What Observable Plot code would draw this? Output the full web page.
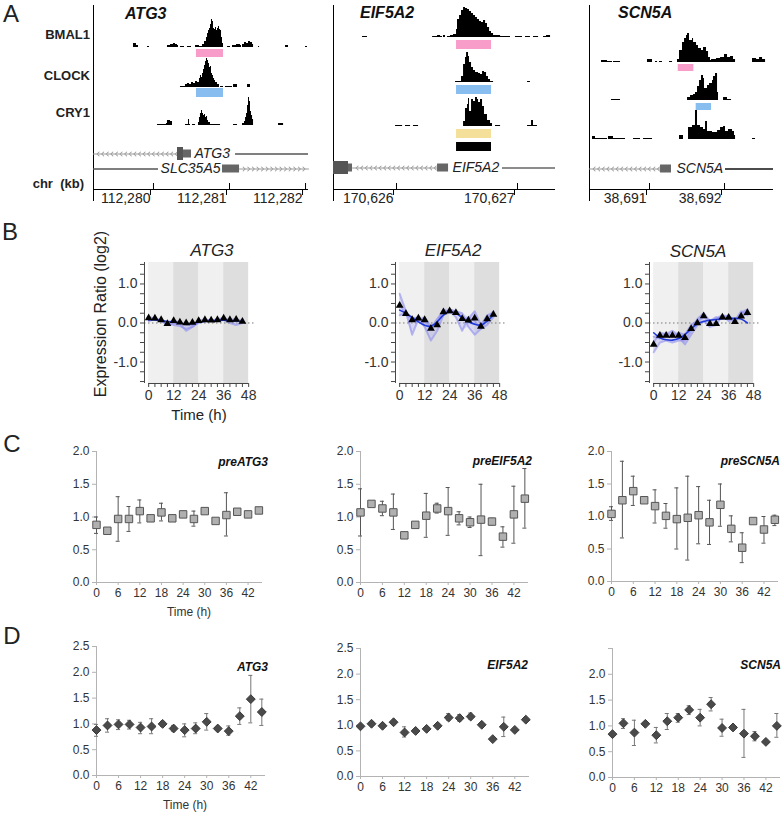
<!DOCTYPE html>
<html><head><meta charset="utf-8">
<script src="https://cdn.jsdelivr.net/npm/d3@7"></script>
<script src="https://cdn.jsdelivr.net/npm/@observablehq/plot@0.6"></script>
<style>
body{margin:0;background:#fff;}
#root{position:relative;width:782px;height:813px;overflow:hidden;font-family:"Liberation Sans",Arial,Helvetica,sans-serif;color:#222;background:#fff;}
.t{position:absolute;line-height:1;white-space:pre;}
.p{position:absolute;line-height:0;}
.vl{position:absolute;width:1px;background:#000;}
</style></head><body><div id="root"></div>
<script>
// ================= DATA =================
// ---- Panel A: genomic windows (kb offsets from a reference coordinate) ----
const atg3Ref = 112280, eif5a2Ref = 170626, scn5aRef = 38691;
const atg3Window = [-0.789, 2.039], eif5a2Window = [-0.521, 1.314], scn5aWindow = [-0.8, 1.653];
const atg3Ticks = [112280, 112281, 112282], eif5a2Ticks = [170626, 170627], scn5aTicks = [38691, 38692];
const trackNames = ["BMAL1", "CLOCK", "CRY1"];

// ChIP-seq coverage: [kb offset where a step starts, signal]
const atg3Bmal1 = [[-0.263,4],[-0.224,2],[-0.197,0],[-0.079,1],[-0.053,0],[0.184,2],[0.224,3],[0.263,4],[0.289,3],[0.316,2],[0.329,0],[0.355,1],[0.408,0],[0.447,1],[0.5,0],[0.553,2],[0.605,1],[0.645,3],[0.671,6],[0.697,10],[0.711,14],[0.724,17],[0.737,19],[0.75,23],[0.763,28],[0.776,26],[0.789,19],[0.803,18],[0.816,20],[0.829,17],[0.842,19],[0.855,21],[0.868,18],[0.882,17],[0.895,10],[0.908,4],[0.921,0],[0.974,1],[1.013,0],[1.039,2],[1.092,3],[1.145,2],[1.158,0],[1.171,3],[1.197,5],[1.224,4],[1.25,6],[1.276,5],[1.303,3],[1.316,0],[1.382,1],[1.395,0],[1.737,2],[1.776,0],[2.0,1],[2.026,0]];
const atg3Clock = [[0.355,1],[0.421,3],[0.447,4],[0.474,3],[0.5,5],[0.526,4],[0.553,6],[0.579,5],[0.605,9],[0.618,12],[0.632,10],[0.645,14],[0.658,18],[0.671,22],[0.684,26],[0.697,29],[0.711,27],[0.724,24],[0.737,20],[0.75,21],[0.763,14],[0.776,12],[0.789,9],[0.803,7],[0.816,5],[0.842,3],[0.868,0],[0.882,1],[0.921,0],[0.947,1],[1.039,0],[1.053,3],[1.105,0],[1.237,3],[1.276,0]];
const atg3Cry1 = [[0.053,1],[0.171,2],[0.184,5],[0.224,4],[0.25,0],[0.421,1],[0.461,6],[0.474,1],[0.487,0],[0.513,1],[0.553,0],[0.592,3],[0.605,8],[0.618,12],[0.632,15],[0.645,12],[0.658,10],[0.671,11],[0.684,8],[0.697,9],[0.711,5],[0.724,3],[0.75,1],[0.882,0],[1.053,1],[1.105,0],[1.171,2],[1.197,4],[1.211,8],[1.224,12],[1.237,20],[1.25,28],[1.263,24],[1.276,14],[1.289,10],[1.303,6],[1.316,0],[1.645,2],[1.711,0]];
const eif5a2Bmal1 = [[-0.281,1],[-0.24,0],[0.298,1],[0.339,2],[0.364,1],[0.38,0],[0.388,2],[0.405,0],[0.421,1],[0.446,2],[0.471,3],[0.496,8],[0.504,18],[0.521,22],[0.537,27],[0.554,30],[0.57,29],[0.587,28],[0.603,26],[0.62,24],[0.636,22],[0.653,20],[0.669,18],[0.686,16],[0.702,15],[0.719,17],[0.736,14],[0.752,10],[0.769,6],[0.785,4],[0.802,2],[0.86,1],[0.942,0],[0.983,1],[1.041,0],[1.066,1],[1.107,0],[1.132,1],[1.174,0],[1.215,1],[1.24,2],[1.273,0]];
const eif5a2Clock = [[0.488,1],[0.537,6],[0.554,18],[0.57,25],[0.579,30],[0.595,26],[0.603,20],[0.62,15],[0.636,12],[0.653,10],[0.678,9],[0.694,8],[0.711,11],[0.727,10],[0.744,6],[0.76,3],[0.777,1],[0.802,0],[1.083,1],[1.107,0]];
const eif5a2Cry1 = [[-0.008,1],[0.05,0],[0.074,1],[0.116,0],[0.14,1],[0.182,0],[0.554,5],[0.57,18],[0.587,22],[0.595,28],[0.603,15],[0.62,27],[0.636,25],[0.653,29],[0.669,27],[0.678,24],[0.694,27],[0.711,20],[0.727,12],[0.752,6],[0.777,3],[0.793,0],[0.818,1],[0.86,0],[1.083,1],[1.116,6],[1.132,1],[1.165,0]];
const scn5aBmal1 = [[-0.64,2],[-0.56,1],[-0.493,0],[-0.48,1],[-0.387,0],[-0.027,3],[0.04,0],[0.08,1],[0.107,0],[0.133,1],[0.173,0],[0.267,1],[0.307,0],[0.373,3],[0.4,12],[0.44,20],[0.467,24],[0.493,27],[0.507,29],[0.533,22],[0.573,24],[0.587,20],[0.627,17],[0.653,14],[0.693,12],[0.72,15],[0.76,11],[0.787,5],[0.813,2],[0.827,3],[0.893,4],[0.947,5],[1.0,8],[1.04,5],[1.08,6],[1.12,3],[1.147,0],[1.373,4],[1.427,3],[1.467,5],[1.507,3],[1.547,0]];
const scn5aClock = [[-0.507,1],[-0.387,0],[0.507,3],[0.547,5],[0.587,6],[0.613,8],[0.64,14],[0.667,20],[0.693,25],[0.72,22],[0.733,12],[0.773,15],[0.8,17],[0.84,20],[0.853,24],[0.88,27],[0.907,8],[0.92,0],[0.987,3],[1.04,1],[1.093,0]];
const scn5aCry1 = [[-0.76,3],[-0.72,1],[-0.56,0],[-0.547,3],[-0.48,1],[-0.32,0],[-0.213,1],[-0.12,0],[-0.08,1],[0.04,0],[0.4,4],[0.453,0],[0.52,12],[0.573,14],[0.613,29],[0.64,14],[0.68,12],[0.72,10],[0.747,18],[0.773,8],[0.84,7],[0.907,9],[0.947,12],[0.987,13],[1.013,8],[1.053,10],[1.107,8],[1.133,4],[1.147,0],[1.373,1],[1.413,0]];

// Peak regions (kb offsets)
const atg3Regions = [{track:"BMAL1", start:0.566, end:0.921}, {track:"CLOCK", start:0.566, end:0.921}];
const eif5a2Regions = [{track:"BMAL1", start:0.496, end:0.785}, {track:"CLOCK", start:0.496, end:0.785}, {track:"CRY1", start:0.496, end:0.785}, {track:"ALL", start:0.496, end:0.785}];
const scn5aRegions = [{track:"BMAL1", start:0.383, end:0.591}, {track:"CLOCK", start:0.622, end:0.827}];
const regionColors = {BMAL1:"#f89cca", CLOCK:"#88bdf0", CRY1:"#f5e09b", ALL:"#000000"};

// Gene models (kb offsets)
const atg3Genes = [
  {gene:"ATG3", strand:-1, chevron:[-0.789,0.316], line:[1.079,2.039], labelAt:0.539, anchor:"start"},
  {gene:"SLC35A5", strand:1, chevron:[1.132,2.039], line:[-0.789,0.066], labelAt:0.882, anchor:"end"}];
const atg3Exons = [{gene:"ATG3", start:0.316, end:0.395, kind:"cds"}, {gene:"ATG3", start:0.395, end:0.5, kind:"utr"}, {gene:"SLC35A5", start:0.908, end:1.132, kind:"utr"}];
const eif5a2Genes = [{gene:"EIF5A2", strand:-1, chevron:[-0.364,0.339], line:[0.876,1.314], labelAt:0.463, anchor:"start"}];
const eif5a2Exons = [{gene:"EIF5A2", start:-0.521, end:-0.397, kind:"cds"}, {gene:"EIF5A2", start:-0.397, end:-0.364, kind:"utr"}, {gene:"EIF5A2", start:0.339, end:0.43, kind:"utr"}];
const scn5aGenes = [{gene:"SCN5A", strand:-1, chevron:[-0.8,0.147], line:[1.013,1.653], labelAt:0.36, anchor:"start"}];
const scn5aExons = [{gene:"SCN5A", start:0.147, end:0.293, kind:"utr"}];

// ---- Panel B: expression ratio (log2) ----
const bHours = [0,3,6,9,12,15,18,21,24,27,30,33,36,39,42,45];
const bXTicks = [0,3,6,9,12,15,18,21,24,27,30,33,36,39,42,45,48];
const bYTicks = [-1.5,-1.25,-1,-0.75,-0.5,-0.25,0,0.25,0.5,0.75,1,1.25,1.5];
const bBands = [{start:0,end:12,phase:"light"},{start:12,end:24,phase:"dark"},{start:24,end:36,phase:"light"},{start:36,end:48,phase:"dark"}];
const bAtg3Mean = [0.13,0.12,0.08,-0.02,0.06,0.02,0.0,0.01,0.06,0.08,0.07,0.08,0.12,0.08,0.09,0.04];
const bAtg3Fit = [0.08,0.08,0.06,0.04,0.02,0.0,-0.02,-0.01,0.02,0.04,0.05,0.06,0.07,0.06,0.05,0.04];
const bAtg3Rep1 = [0.1,0.08,0.05,0.0,-0.05,-0.08,-0.15,-0.1,0.0,0.05,0.05,0.05,0.08,0.0,-0.05,0.0];
const bAtg3Rep2 = [0.05,0.1,0.08,0.02,0.05,0.02,-0.05,-0.05,0.03,0.05,0.08,0.06,0.1,0.05,0.06,0.05];
const bAtg3Rep3 = [0.15,0.12,0.05,-0.05,0.0,-0.03,-0.2,-0.1,0.05,0.1,0.05,0.1,0.12,0.08,0.1,0.05];
const bEif5a2Mean = [0.45,0.24,0.08,0.12,0.08,-0.14,-0.05,0.28,0.31,0.26,0.11,0.07,0.12,-0.09,0.1,0.22];
const bEif5a2Fit = [0.33,0.25,0.14,0.03,-0.06,-0.08,0.03,0.2,0.28,0.25,0.14,0.03,-0.03,-0.05,0.05,0.2];
const bEif5a2Rep1 = [0.75,0.3,-0.3,0.1,0.05,-0.15,0.1,0.3,0.3,0.15,-0.2,0.15,0.05,-0.15,0.1,0.3];
const bEif5a2Rep2 = [0.5,0.2,0.1,0.15,-0.1,-0.45,-0.2,0.2,0.35,0.3,0.25,-0.1,-0.3,-0.15,-0.05,0.15];
const bEif5a2Rep3 = [0.2,0.25,0.15,0.05,0.15,-0.1,0.0,0.35,0.25,0.3,0.15,0.1,0.3,-0.05,0.2,0.25];
const bScn5aMean = [-0.55,-0.32,-0.32,-0.32,-0.32,-0.38,-0.15,0.0,0.18,-0.02,-0.02,0.15,0.14,0.03,0.17,0.26];
const bScn5aFit = [-0.25,-0.38,-0.43,-0.44,-0.4,-0.3,-0.15,-0.02,0.04,0.07,0.09,0.11,0.12,0.12,0.1,0.0];
const bScn5aRep1 = [-0.75,-0.5,-0.45,-0.5,-0.45,-0.45,-0.2,0.1,0.25,0.05,0.15,0.1,0.2,0.0,0.25,0.35];
const bScn5aRep2 = [-0.5,-0.25,-0.3,-0.2,-0.35,-0.55,-0.3,-0.05,0.05,-0.1,-0.05,0.2,0.05,0.1,0.15,0.25];
const bScn5aRep3 = [-0.35,-0.4,-0.25,-0.35,-0.25,-0.3,-0.05,0.05,0.15,0.05,0.1,0.2,0.15,0.05,0.3,0.2];

// ---- Panels C & D: relative levels with error bars ----
const cdHours = [0,3,6,9,12,15,18,21,24,27,30,33,36,39,42,45];
const cdXTicks = [0,6,12,18,24,30,36,42];
const cYTicks = [0,0.5,1,1.5,2];
const dYTicks = [0,0.5,1,1.5,2,2.5];
const cAtg3 = [0.88,0.79,0.97,0.97,1.09,0.98,1.07,0.98,1.04,0.97,1.09,0.94,1.03,1.08,1.04,1.1];
const cAtg3Lo = [0.75,null,0.63,0.78,0.91,null,0.94,0.96,null,0.86,null,null,0.71,null,1.0,null];
const cAtg3Hi = [1.0,null,1.31,1.16,1.26,null,1.21,1.0,null,1.09,null,null,1.37,null,1.08,null];
const cEif5a2 = [1.07,1.2,1.13,1.07,0.72,0.88,1.02,1.13,1.09,0.98,0.92,0.96,0.93,0.7,1.04,1.28];
const cEif5a2Lo = [0.71,null,1.02,0.81,null,null,0.69,1.06,0.72,0.88,0.84,0.41,0.88,0.54,0.6,0.83];
const cEif5a2Hi = [1.43,null,1.24,1.35,null,null,1.36,1.21,1.45,1.08,1.0,1.5,0.98,0.85,1.47,1.74];
const cScn5a = [1.04,1.25,1.39,1.25,1.16,1.01,0.96,0.98,1.02,0.91,1.18,0.81,0.52,0.93,0.8,0.95];
const cScn5aLo = [0.94,0.67,1.17,null,0.9,0.82,0.5,0.33,0.58,0.57,0.85,0.61,0.29,null,0.59,0.86];
const cScn5aHi = [1.15,1.85,1.62,null,1.41,1.2,1.44,1.62,1.46,1.25,1.5,1.01,0.75,null,1.0,1.02];
const dAtg3 = [0.88,0.97,0.99,0.99,0.93,0.95,1.0,0.91,0.88,0.91,1.04,0.91,0.86,1.15,1.48,1.23];
const dAtg3Lo = [0.76,0.84,0.89,0.9,0.81,0.81,0.95,0.86,0.75,0.81,0.88,null,0.78,0.99,1.02,0.97];
const dAtg3Hi = [0.99,1.1,1.08,1.07,1.03,1.1,1.05,0.97,1.0,1.02,1.2,null,0.96,1.31,1.94,1.48];
const dEif5a2 = [0.98,1.03,0.99,1.06,0.86,0.89,0.93,0.99,1.15,1.14,1.17,1.01,0.73,0.97,0.91,1.11];
const dEif5a2Lo = [null,null,null,null,0.77,null,null,null,1.1,1.08,1.12,null,null,0.78,null,null];
const dEif5a2Hi = [null,null,null,null,0.97,null,null,null,1.23,1.21,1.24,null,null,1.16,null,null];
const dScn5a = [0.84,1.05,0.87,1.04,0.82,1.09,1.16,1.31,1.16,1.42,0.96,0.97,0.85,0.8,0.69,1.0];
const dScn5aLo = [null,0.95,0.62,null,0.67,0.93,1.07,1.22,1.0,1.29,0.8,null,0.39,0.71,null,0.78];
const dScn5aHi = [null,1.14,1.11,null,0.97,1.24,1.24,1.39,1.32,1.55,1.13,null,1.32,0.89,null,1.24];

// ================= RENDERING =================
const FONT = '"Liberation Sans", Arial, Helvetica, sans-serif';
const STYLE = `font-family:${FONT};background:none;overflow:visible;max-width:none;`;
const root = document.getElementById("root");

function place(node, left, top) {
  const d = document.createElement("div");
  d.className = "p";
  d.style.left = left + "px";
  d.style.top = top + "px";
  d.appendChild(node);
  root.appendChild(d);
}
function label(str, x, y, o = {}) {
  const {size = 13, weight = "normal", style = "normal", anchor = "middle", rotate = 0, color = "#222"} = o;
  const d = document.createElement("div");
  d.className = "t";
  d.textContent = str;
  const tx = anchor === "start" ? "0" : anchor === "end" ? "-100%" : "-50%";
  d.style.left = x + "px"; d.style.top = y + "px";
  d.style.fontSize = size + "px"; d.style.fontWeight = weight; d.style.fontStyle = style; d.style.color = color;
  d.style.transform = `translate(${tx},-50%)` + (rotate ? ` rotate(${rotate}deg)` : "");
  root.appendChild(d);
}
function vline(x, y1, y2) {
  const d = document.createElement("div");
  d.className = "vl";
  d.style.left = x + "px"; d.style.top = y1 + "px"; d.style.height = (y2 - y1) + "px";
  root.appendChild(d);
}

// ---------- Panel A ----------
function aColumn(cfg) {
  const {ref, win, left, right} = cfg;
  const width = right - left;
  const xDomain = [ref + win[0], ref + win[1]];
  const base = {width, marginLeft: 0, marginRight: 0, marginTop: 0, marginBottom: 0, style: STYLE, x: {domain: xDomain, axis: null}};
  vline(left, 5, 201);
  cfg.tracks.forEach((data, i) => {
    const svg = Plot.plot({...base, height: 30, y: {domain: [0, 30], axis: null},
      marks: [Plot.areaY(data, {x: d => ref + d[0], y: d => d[1], curve: "step-after", fill: "#000"})]});
    place(svg, left, cfg.baselines[i] - 30);
  });
  cfg.regions.forEach((r, i) => {
    const svg = Plot.plot({...base, height: cfg.barBoxes[i][1],
      marks: [Plot.barX([r], {x1: d => ref + d.start, x2: d => ref + d.end, fill: regionColors[r.track]})]});
    place(svg, left, cfg.barBoxes[i][0]);
  });
  // gene model
  const rowH = 15;
  const pxPerKb = width / (win[1] - win[0]);
  const step = 4.6 / pxPerKb;
  const chev = cfg.genes.flatMap(g => {
    const xs = d3.range(g.chevron[0], g.chevron[1], step);
    xs.push(g.chevron[1]);
    if (g.strand < 0) xs.reverse();
    return xs.map(x => ({gene: g.gene, x: ref + x}));
  });
  const gsvg = Plot.plot({...base, height: rowH * cfg.genes.length,
    y: {domain: cfg.genes.map(g => g.gene), type: "band", padding: 0, axis: null},
    marks: [
      Plot.ruleY(cfg.genes, {y: "gene", x1: d => ref + d.line[0], x2: d => ref + d.line[1], stroke: cfg.lineColor, strokeWidth: 1.3}),
      Plot.line(chev, {x: "x", y: "gene", z: "gene", stroke: "#9a9a9a", strokeWidth: 1, markerMid: "arrow"}),
      Plot.barX(cfg.exons.filter(e => e.kind === "utr"), {x1: d => ref + d.start, x2: d => ref + d.end, y: "gene", fill: "#666", insetTop: 3.5, insetBottom: 3.5}),
      Plot.barX(cfg.exons.filter(e => e.kind === "cds"), {x1: d => ref + d.start, x2: d => ref + d.end, y: "gene", fill: "#555", insetTop: 1, insetBottom: 1}),
      Plot.text(cfg.genes.filter(g => g.anchor === "start"), {x: d => ref + d.labelAt, y: "gene", text: "gene", textAnchor: "start", fontStyle: "italic", fontSize: 14, fill: "#222"}),
      Plot.text(cfg.genes.filter(g => g.anchor === "end"), {x: d => ref + d.labelAt, y: "gene", text: "gene", textAnchor: "end", fontStyle: "italic", fontSize: 14, fill: "#222"})
    ]});
  place(gsvg, left, cfg.geneTop);
  // coordinate axis
  const ax = Plot.plot({...base, height: 26, marginBottom: 20, y: {domain: [0, 1], axis: null},
    marks: [
      Plot.ruleY([0], {stroke: "#000"}),
      Plot.tickX(cfg.ticks, {x: d => d, stroke: "#000"}),
      Plot.axisX({ticks: cfg.ticks, tickSize: 6, tickPadding: -2, tickFormat: d3.format(","), fontSize: 14, textAnchor: "end", dx: -3, fill: "#222", stroke: "#000", label: null})
    ]});
  place(ax, left, 183);
}

aColumn({ref: atg3Ref, win: atg3Window, left: 93, right: 308, tracks: [atg3Bmal1, atg3Clock, atg3Cry1], baselines: [47, 87, 125],
  regions: atg3Regions, barBoxes: [[49, 8], [88, 9]], genes: atg3Genes, exons: atg3Exons, geneTop: 145.5, lineColor: "#555", ticks: atg3Ticks});
aColumn({ref: eif5a2Ref, win: eif5a2Window, left: 333, right: 555, tracks: [eif5a2Bmal1, eif5a2Clock, eif5a2Cry1], baselines: [37, 82, 126],
  regions: eif5a2Regions, barBoxes: [[40, 9], [85, 9], [129, 9], [142, 9]], genes: eif5a2Genes, exons: eif5a2Exons, geneTop: 159.5, lineColor: "#666", ticks: eif5a2Ticks});
aColumn({ref: scn5aRef, win: scn5aWindow, left: 589, right: 773, tracks: [scn5aBmal1, scn5aClock, scn5aCry1], baselines: [62, 100, 139],
  regions: scn5aRegions, barBoxes: [[64, 7], [103, 7]], genes: scn5aGenes, exons: scn5aExons, geneTop: 160.5, lineColor: "#111", ticks: scn5aTicks});

label("A", 11, 13.5, {size: 24});
label("ATG3", 125, 14, {size: 16, weight: "bold", style: "italic", anchor: "start", color: "#111"});
label("EIF5A2", 360, 13, {size: 16, weight: "bold", style: "italic", anchor: "start", color: "#111"});
label("SCN5A", 618, 13, {size: 16, weight: "bold", style: "italic", anchor: "start", color: "#111"});
label(trackNames[0], 90, 34, {size: 13, weight: "bold", anchor: "end"});
label(trackNames[1], 90, 74.5, {size: 13, weight: "bold", anchor: "end"});
label(trackNames[2], 90, 112, {size: 13, weight: "bold", anchor: "end"});
label("chr  (kb)", 84, 183, {size: 13, weight: "bold", anchor: "end"});

// ---------- Panel B ----------
function bPanel(cfg) {
  const pxPerH = 100 / 48;
  const xDomain = [-2, 51], yDomain = [-1.55, 1.55];
  const mL = 42, mR = 2, mT = 1, mB = 34, frameH = 121;
  const frameW = (xDomain[1] - xDomain[0]) * pxPerH;
  const meanData = bHours.map((t, i) => ({t, v: cfg.mean[i]}));
  const fitData = bHours.map((t, i) => ({t, v: cfg.fit[i]}));
  const repData = cfg.reps.flatMap((r, k) => bHours.map((t, i) => ({t, v: r[i], rep: k})));
  const bandData = bHours.map((t, i) => ({t, lo: d3.min(cfg.reps, r => r[i]), hi: d3.max(cfg.reps, r => r[i])}));
  const fmt = d => Number.isInteger(d) ? d.toFixed(1) : "";
  const svg = Plot.plot({
    width: mL + frameW + mR, height: mT + frameH + mB,
    marginLeft: mL, marginRight: mR, marginTop: mT, marginBottom: mB, style: STYLE,
    x: {domain: xDomain}, y: {domain: yDomain},
    marks: [
      Plot.rect(bBands.filter(b => b.phase === "light"), {x1: "start", x2: "end", fill: "#f0f0f0"}),
      Plot.rect(bBands.filter(b => b.phase === "dark"), {x1: "start", x2: "end", fill: "#dedede"}),
      Plot.ruleY([0], {stroke: "#777", strokeDasharray: "1.5,2.5"}),
      Plot.areaY(bandData, {x: "t", y1: "lo", y2: "hi", fill: "#a9a9f2", fillOpacity: 0.35}),
      Plot.line(repData, {x: "t", y: "v", z: "rep", stroke: "#8c8cf0", strokeOpacity: 0.6, strokeWidth: 2}),
      Plot.line(fitData, {x: "t", y: "v", stroke: "#2039d8", strokeWidth: 1.6, curve: "natural"}),
      Plot.dot(meanData, {x: "t", y: "v", symbol: "triangle", r: 2.9, fill: "#000"}),
      Plot.ruleX([xDomain[0]], {stroke: "#444"}),
      Plot.ruleY([yDomain[0]], {x1: bXTicks[0], x2: bXTicks[bXTicks.length - 1], stroke: "#444"}),
      Plot.axisY({ticks: bYTicks, tickSize: 4, tickPadding: 3, tickFormat: fmt, fontSize: 14, stroke: "#444", fill: "#333", label: null}),
      Plot.axisX({ticks: bXTicks, tickSize: 4, tickPadding: 3, tickFormat: d => d % 12 === 0 ? String(d) : "", fontSize: 14, stroke: "#444", fill: "#333", label: null})
    ]
  });
  place(svg, cfg.axisLeft - mL, 262 - mT);
}
bPanel({mean: bAtg3Mean, fit: bAtg3Fit, reps: [bAtg3Rep1, bAtg3Rep2, bAtg3Rep3], axisLeft: 144});
bPanel({mean: bEif5a2Mean, fit: bEif5a2Fit, reps: [bEif5a2Rep1, bEif5a2Rep2, bEif5a2Rep3], axisLeft: 395});
bPanel({mean: bScn5aMean, fit: bScn5aFit, reps: [bScn5aRep1, bScn5aRep2, bScn5aRep3], axisLeft: 649});

label("B", 10, 232, {size: 24});
label("ATG3", 212, 250, {size: 17, style: "italic"});
label("EIF5A2", 453, 250, {size: 17, style: "italic"});
label("SCN5A", 698, 251, {size: 17, style: "italic"});
label("Expression Ratio (log2)", 101, 314, {size: 16, rotate: -90});
label("Time (h)", 199, 414, {size: 15});

// ---------- Panels C & D ----------
function cdPanel(cfg) {
  const mL = 36, mR = 6, mT = 4, mB = 24;
  const pts = cdHours.map((t, i) => ({t, v: cfg.v[i], lo: cfg.lo[i], hi: cfg.hi[i]}));
  const errs = pts.filter(d => d.lo != null && d.hi != null);
  const svg = Plot.plot({
    width: mL + cfg.frameW + mR, height: mT + cfg.frameH + mB,
    marginLeft: mL, marginRight: mR, marginTop: mT, marginBottom: mB, style: STYLE,
    x: {domain: [0, 46]}, y: {domain: [0, cfg.yTicks[cfg.yTicks.length - 1]]},
    marks: [
      Plot.ruleX([0], {stroke: "#b3b3b3"}),
      Plot.ruleY([0], {stroke: "#b3b3b3"}),
      Plot.axisY({ticks: cfg.yTicks, tickSize: 4, tickPadding: 3, fontSize: 12, tickFormat: cfg.fmt, stroke: "#b3b3b3", fill: "#333", label: null}),
      Plot.axisX({ticks: cdXTicks, tickSize: 3, tickPadding: 3, fontSize: 12, stroke: "#b3b3b3", fill: "#333", label: null}),
      Plot.ruleX(errs, {x: "t", y1: "lo", y2: "hi", stroke: cfg.errColor}),
      Plot.ruleY(errs, {y: "hi", x1: d => d.t - 0.55, x2: d => d.t + 0.55, stroke: cfg.errColor}),
      Plot.ruleY(errs, {y: "lo", x1: d => d.t - 0.55, x2: d => d.t + 0.55, stroke: cfg.errColor}),
      Plot.dot(pts, {x: "t", y: "v", symbol: cfg.symbol, r: cfg.r, fill: cfg.fill, stroke: cfg.stroke, strokeWidth: 1})
    ]
  });
  place(svg, cfg.left - mL, cfg.top - mT);
}
const f1 = d => d.toFixed(1);
const cStyle = {symbol: "square", r: 4.2, fill: "#b0b0b0", stroke: "#555", errColor: "#555", yTicks: cYTicks, fmt: f1};
cdPanel({...cStyle, v: cAtg3, lo: cAtg3Lo, hi: cAtg3Hi, left: 96, top: 451, frameW: 166, frameH: 131});
cdPanel({...cStyle, v: cEif5a2, lo: cEif5a2Lo, hi: cEif5a2Hi, left: 360, top: 451, frameW: 168, frameH: 131});
cdPanel({...cStyle, v: cScn5a, lo: cScn5aLo, hi: cScn5aHi, left: 611, top: 451, frameW: 167, frameH: 130});
const dStyle = {symbol: "diamond2", r: 4, fill: "#4a4a4a", stroke: "#3a3a3a", errColor: "#777", yTicks: dYTicks, fmt: f1};
cdPanel({...dStyle, v: dAtg3, lo: dAtg3Lo, hi: dAtg3Hi, left: 96, top: 646, frameW: 169, frameH: 129});
cdPanel({...dStyle, v: dEif5a2, lo: dEif5a2Lo, hi: dEif5a2Hi, left: 360, top: 648, frameW: 169, frameH: 128});
cdPanel({...dStyle, v: dScn5a, lo: dScn5aLo, hi: dScn5aHi, left: 612, top: 648, frameW: 168, frameH: 129, fmt: d => d === 2.5 ? "" : d.toFixed(1)});

label("C", 12, 444, {size: 24});
label("preATG3", 268, 462, {size: 12, weight: "bold", style: "italic", anchor: "end", color: "#111"});
label("preEIF5A2", 532, 461, {size: 12, weight: "bold", style: "italic", anchor: "end", color: "#111"});
label("preSCN5A", 780, 461, {size: 12, weight: "bold", style: "italic", anchor: "end", color: "#111"});
label("Time (h)", 189, 612, {size: 12, color: "#333"});
label("D", 12, 636, {size: 24});
label("ATG3", 268, 667, {size: 12, weight: "bold", style: "italic", anchor: "end", color: "#111"});
label("EIF5A2", 528, 665, {size: 12, weight: "bold", style: "italic", anchor: "end", color: "#111"});
label("SCN5A", 781, 665, {size: 12, weight: "bold", style: "italic", anchor: "end", color: "#111"});
label("Time (h)", 185, 805, {size: 12, color: "#333"});
</script></body></html>
